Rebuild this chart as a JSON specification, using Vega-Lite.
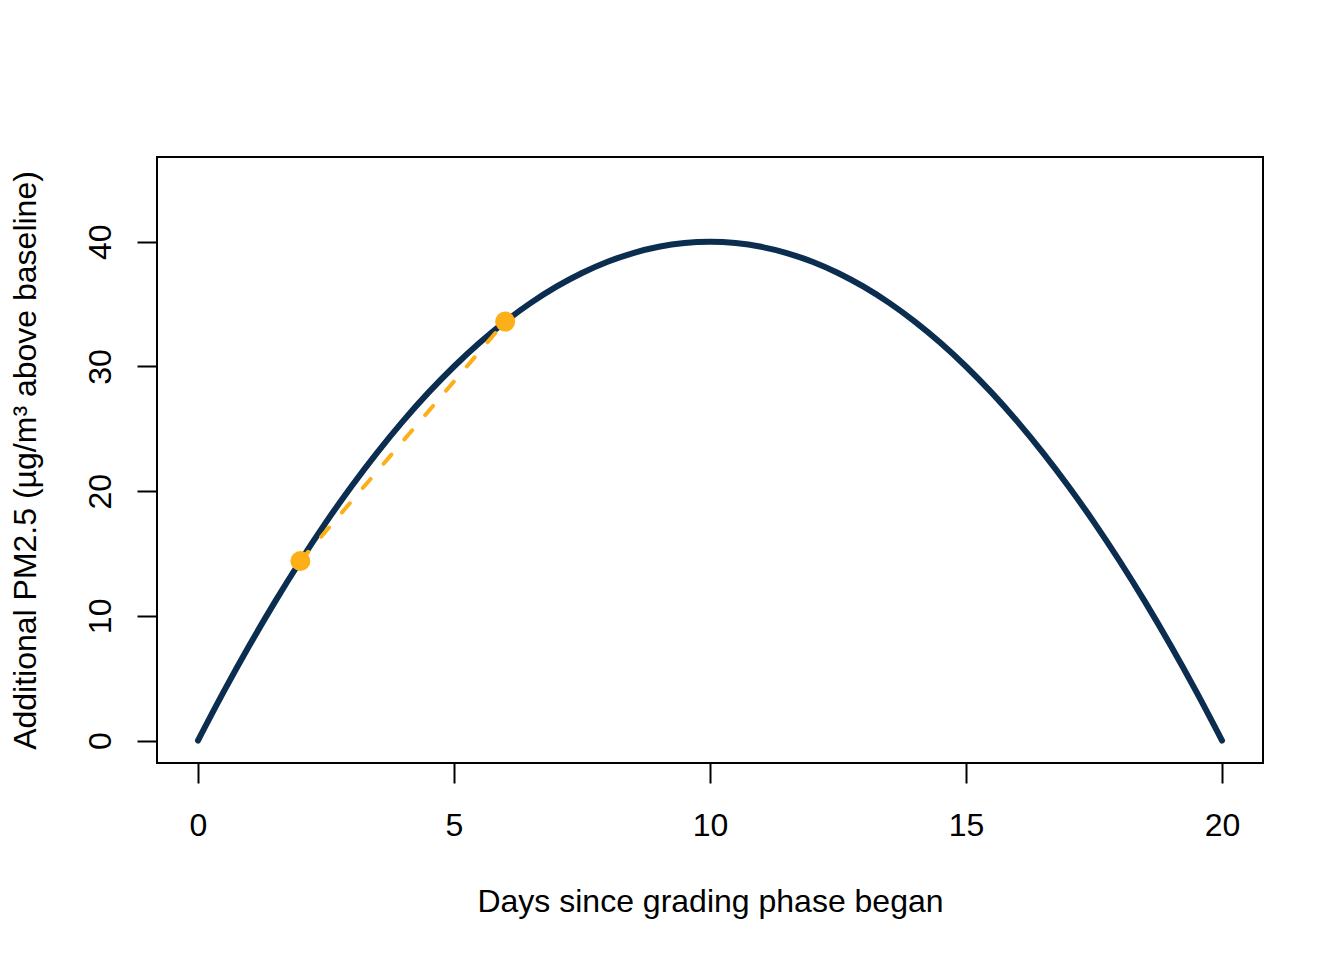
{
  "$schema": "https://vega.github.io/schema/vega-lite/v6.json",
  "width": 1106,
  "height": 606,
  "autosize": {"type": "none"},
  "padding": {"left": 157, "top": 157, "right": 81, "bottom": 197},
  "background": "white",
  "datasets": {
    "curve": [
      {"day": 0, "pm": 0}, {"day": 0.5, "pm": 3.9}, {"day": 1, "pm": 7.6}, {"day": 1.5, "pm": 11.1},
      {"day": 2, "pm": 14.4}, {"day": 2.5, "pm": 17.5}, {"day": 3, "pm": 20.4}, {"day": 3.5, "pm": 23.1},
      {"day": 4, "pm": 25.6}, {"day": 4.5, "pm": 27.9}, {"day": 5, "pm": 30}, {"day": 5.5, "pm": 31.9},
      {"day": 6, "pm": 33.6}, {"day": 6.5, "pm": 35.1}, {"day": 7, "pm": 36.4}, {"day": 7.5, "pm": 37.5},
      {"day": 8, "pm": 38.4}, {"day": 8.5, "pm": 39.1}, {"day": 9, "pm": 39.6}, {"day": 9.5, "pm": 39.9},
      {"day": 10, "pm": 40}, {"day": 10.5, "pm": 39.9}, {"day": 11, "pm": 39.6}, {"day": 11.5, "pm": 39.1},
      {"day": 12, "pm": 38.4}, {"day": 12.5, "pm": 37.5}, {"day": 13, "pm": 36.4}, {"day": 13.5, "pm": 35.1},
      {"day": 14, "pm": 33.6}, {"day": 14.5, "pm": 31.9}, {"day": 15, "pm": 30}, {"day": 15.5, "pm": 27.9},
      {"day": 16, "pm": 25.6}, {"day": 16.5, "pm": 23.1}, {"day": 17, "pm": 20.4}, {"day": 17.5, "pm": 17.5},
      {"day": 18, "pm": 14.4}, {"day": 18.5, "pm": 11.1}, {"day": 19, "pm": 7.6}, {"day": 19.5, "pm": 3.9},
      {"day": 20, "pm": 0}
    ],
    "secant": [
      {"day": 2, "pm": 14.4},
      {"day": 6, "pm": 33.6}
    ]
  },
  "encoding": {
    "x": {
      "field": "day",
      "type": "quantitative",
      "title": "Days since grading phase began",
      "scale": {"domain": [-0.8, 20.8], "nice": false, "zero": false},
      "axis": {
        "values": [0, 5, 10, 15, 20],
        "grid": false,
        "domain": false,
        "tickSize": 20,
        "tickWidth": 2,
        "tickColor": "black",
        "labelFontSize": 32,
        "labelColor": "black",
        "labelFont": "Liberation Sans",
        "labelBaseline": "alphabetic",
        "labelPadding": 52,
        "titleFont": "Liberation Sans",
        "titleFontSize": 32,
        "titleFontWeight": "normal",
        "titleColor": "black",
        "titleBaseline": "alphabetic",
        "titleY": 148
      }
    },
    "y": {
      "field": "pm",
      "type": "quantitative",
      "title": "Additional PM2.5 (µg/m³ above baseline)",
      "scale": {"domain": [-1.8, 46.8], "nice": false, "zero": false},
      "axis": {
        "values": [0, 10, 20, 30, 40],
        "grid": false,
        "domain": false,
        "tickSize": 20,
        "tickWidth": 2,
        "tickColor": "black",
        "labelFontSize": 32,
        "labelColor": "black",
        "labelFont": "Liberation Sans",
        "labelAngle": -90,
        "labelAlign": "center",
        "labelBaseline": "alphabetic",
        "labelPadding": 27,
        "titleFont": "Liberation Sans",
        "titleFontSize": 32,
        "titleFontWeight": "normal",
        "titleColor": "black",
        "titleAngle": -90,
        "titleBaseline": "alphabetic",
        "titleX": -122
      }
    }
  },
  "layer": [
    {
      "data": {"name": "curve"},
      "mark": {"type": "line", "color": "#0B2D4F", "strokeWidth": 6, "strokeCap": "round", "interpolate": "monotone"}
    },
    {
      "data": {"name": "secant"},
      "mark": {"type": "line", "color": "#FDAF17", "strokeWidth": 4, "strokeDash": [12, 20], "strokeCap": "round"}
    },
    {
      "data": {"name": "secant"},
      "mark": {"type": "circle", "color": "#FDAF17", "opacity": 1, "size": 400}
    }
  ],
  "config": {
    "view": {"stroke": "black", "strokeWidth": 2}
  }
}
